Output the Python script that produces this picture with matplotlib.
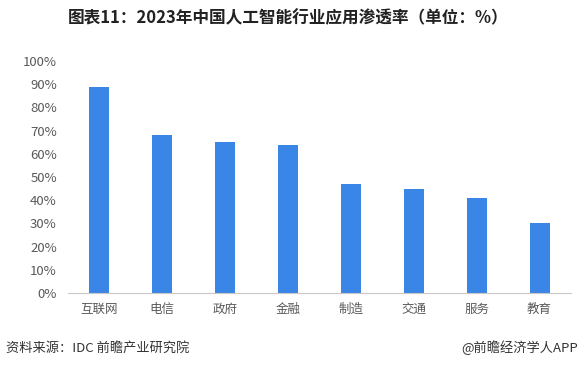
import matplotlib
matplotlib.use("Agg")
import matplotlib.pyplot as plt
from matplotlib.ticker import FuncFormatter

plt.rcParams['font.family'] = ['Noto Sans CJK SC', 'DejaVu Sans']

categories = ["互联网", "电信", "政府", "金融", "制造", "交通", "服务", "教育"]
values = [89, 68, 65, 64, 47, 45, 41, 30]
title = "图表11：2023年中国人工智能行业应用渗透率（单位：%）"
source = "资料来源：IDC 前瞻产业研究院"
credit = "@前瞻经济学人APP"

fig = plt.figure(figsize=(5.8, 3.68), dpi=100)
ax = fig.add_axes([68/580, 1-293/368, (571-68)/580, (293-61)/368])

ax.bar(range(len(categories)), values, width=0.32, color="#3A86E6")
ax.set_xlim(-0.5, len(categories)-0.5)
ax.set_ylim(0, 100)
ax.set_yticks(range(0, 101, 10))
ax.yaxis.set_major_formatter(FuncFormatter(lambda v, p: f"{int(v)}%"))
ax.set_xticks(range(len(categories)))
ax.set_xticklabels(categories)
for s in ["top", "right", "left"]:
    ax.spines[s].set_visible(False)
ax.spines["bottom"].set_color("#C8C8C8")
ax.spines["bottom"].set_linewidth(0.8)
ax.tick_params(axis="both", length=0, colors="#595959")
ax.tick_params(axis="x", pad=7, labelsize=9)
ax.tick_params(axis="y", pad=8, labelsize=9.5)
for lbl in ax.get_yticklabels():
    lbl.set_fontweight("light")

fig.text(0.497, 1-18/368, title, ha="center", va="center", fontsize=12, fontweight="bold", color="#222222")
fig.text(6/580, 1-348/368, source, ha="left", va="center", fontsize=9.5, color="#333333")
fig.text(578/580, 1-348/368, credit, ha="right", va="center", fontsize=9.5, color="#333333")

fig.savefig("out.png", dpi=100)
